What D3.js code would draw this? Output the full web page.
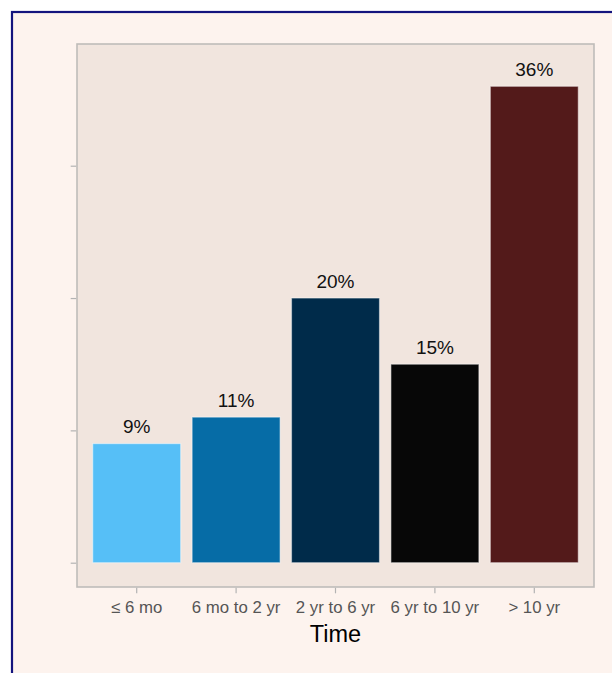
<!DOCTYPE html>
<html>
<head>
<meta charset="utf-8">
<script src="https://cdn.jsdelivr.net/npm/d3@7"></script>
<style>
  html, body { margin: 0; padding: 0; background: #ffffff; }
  svg { display: block; }
</style>
</head>
<body>
<script>
const categories = ["≤ 6 mo", "6 mo to 2 yr", "2 yr to 6 yr", "6 yr to 10 yr", "> 10 yr"];
const values = [9, 11, 20, 15, 36];
const valueLabels = ["9%", "11%", "20%", "15%", "36%"];
const barColors = ["#56bff7", "#066ca6", "#002b4a", "#070707", "#531a1a"];
const yTicks = [0, 10, 20, 30];
const xTitle = "Time";

const W = 612, H = 673;
const font = "'Liberation Sans', Arial, sans-serif";
const panel = { x0: 77, x1: 594, y0: 44, y1: 587 };

const svg = d3.select("body").append("svg").attr("width", W).attr("height", H);

// outer figure background and border
svg.append("rect").attr("x", 12).attr("y", 12).attr("width", W + 20).attr("height", H + 20)
  .attr("fill", "#fdf3ee").attr("stroke", "#14147e").attr("stroke-width", 2.2);

// plot panel
svg.append("rect").attr("x", panel.x0).attr("y", panel.y0)
  .attr("width", panel.x1 - panel.x0).attr("height", panel.y1 - panel.y0)
  .attr("fill", "#f1e5de").attr("stroke", "#bfbcb9").attr("stroke-width", 1.6);

const x = d3.scaleBand().domain(categories).range([87, 584])
  .paddingInner(0.115).paddingOuter(0.0575);
const y = d3.scaleLinear().domain([0, 30]).range([562.7, 165.7]);

// y axis (ticks only, no labels)
const yAxis = svg.append("g").attr("transform", `translate(${panel.x0 - 0.8},0)`)
  .call(d3.axisLeft(y).tickValues(yTicks).tickSize(5.5).tickFormat(""));
yAxis.select(".domain").remove();
yAxis.selectAll(".tick line").attr("stroke", "#b3b3b3").attr("stroke-width", 1.2);

// x axis
const xAxis = svg.append("g").attr("transform", `translate(0,${panel.y1 + 0.8})`)
  .call(d3.axisBottom(x).tickSize(5.5).tickPadding(8));
xAxis.select(".domain").remove();
xAxis.selectAll(".tick line").attr("stroke", "#b3b3b3").attr("stroke-width", 1.2);
xAxis.selectAll(".tick text").attr("font-family", font).attr("font-size", 16.8)
  .attr("fill", "#555555").attr("dy", "0.71em");

// bars
svg.append("g").selectAll("rect").data(values).join("rect")
  .attr("x", (d, i) => x(categories[i]))
  .attr("y", d => y(d))
  .attr("width", x.bandwidth())
  .attr("height", d => y(0) - y(d))
  .attr("fill", (d, i) => barColors[i])
  .attr("stroke", "rgba(255,255,255,0.45)")
  .attr("stroke-width", 1.2);

// value labels
svg.append("g").selectAll("text").data(values).join("text")
  .attr("x", (d, i) => x(categories[i]) + x.bandwidth() / 2)
  .attr("y", d => y(d) - 10.5)
  .attr("text-anchor", "middle")
  .attr("font-family", font).attr("font-size", 19)
  .attr("fill", "#111111")
  .text((d, i) => valueLabels[i]);

// x title
svg.append("text").attr("x", (panel.x0 + panel.x1) / 2).attr("y", 642)
  .attr("text-anchor", "middle").attr("font-family", font).attr("font-size", 23.5)
  .attr("fill", "#000000").text(xTitle);
</script>
</body>
</html>
